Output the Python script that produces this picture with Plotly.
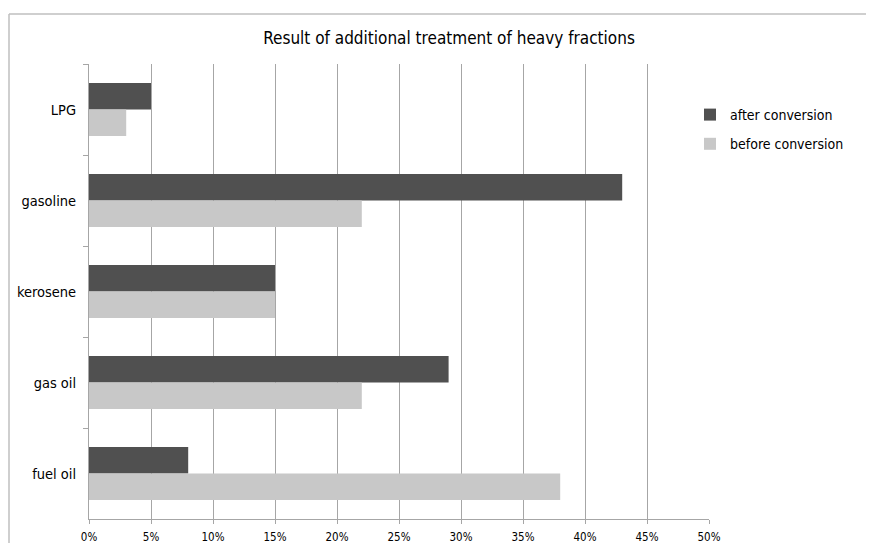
import plotly.graph_objects as go

categories = ["LPG", "gasoline", "kerosene", "gas oil", "fuel oil"]
after_conversion = [5, 43, 15, 29, 8]
before_conversion = [3, 22, 15, 22, 38]
x_ticks = [0, 5, 10, 15, 20, 25, 30, 35, 40, 45, 50]
x_tick_labels = [f"{t}%" for t in x_ticks]

FONT = "DejaVu Sans Condensed, Open Sans, sans-serif"

fig = go.Figure()
fig.add_trace(go.Bar(
    y=categories, x=after_conversion, orientation="h",
    name="after conversion", legendgroup="a",
    marker=dict(color="#505050", line=dict(width=0)),
))
fig.add_trace(go.Bar(
    y=categories, x=before_conversion, orientation="h",
    name="before conversion", legendgroup="b",
    marker=dict(color="#c8c8c8", line=dict(width=0)),
))

# page has an 8px body margin; work in figure coordinates
OFF = 8
W, H = 874 - OFF, 543 - OFF
L, T = 89 - OFF, 64 - OFF
R = W - (709 - OFF)
B = H - (519 - OFF)
pw = W - L - R
ph = H - T - B

def px_x(p):
    return (p - OFF - L) / pw

def px_y(p):
    return (H - B - (p - OFF)) / ph

fig.update_layout(
    width=W, height=H,
    margin=dict(l=L, r=R, t=T, b=B, autoexpand=False),
    paper_bgcolor="white", plot_bgcolor="white",
    barmode="group", bargap=0.42, bargroupgap=0,
    font=dict(family=FONT, size=12, color="#000000"),
    title=dict(text="Result of additional treatment of heavy fractions",
               x=(449 - OFF) / W, xref="container", xanchor="center",
               y=1 - (38 - OFF) / H, yanchor="middle",
               font=dict(family=FONT, size=17, color="#000000")),
    xaxis=dict(range=[0, 50], tickvals=x_ticks, ticktext=x_tick_labels,
               showgrid=True, gridcolor="#a6a6a6", gridwidth=1,
               zeroline=False, showline=True, linecolor="#a6a6a6",
               ticks="outside", ticklen=4, tickcolor="#a6a6a6",
               ticklabelstandoff=3, automargin=False,
               tickfont=dict(family=FONT, size=11.5), fixedrange=True),
    yaxis=dict(categoryorder="array", categoryarray=categories,
               autorange="reversed", showgrid=False, zeroline=False,
               showline=True, linecolor="#a6a6a6",
               ticks="outside", ticklen=5, tickcolor="#a6a6a6",
               tickson="boundaries", ticklabelstandoff=9, automargin=False,
               tickfont=dict(family=FONT, size=14.5)),
    legend=dict(x=px_x(690), y=px_y(99), xanchor="left", yanchor="top",
                traceorder="grouped", tracegroupgap=8,
                font=dict(family=FONT, size=14),
                itemwidth=30, bgcolor="rgba(0,0,0,0)"),
    showlegend=True,
    shapes=[
        dict(type="line", xref="paper", yref="paper",
             x0=px_x(9), x1=px_x(890), y0=px_y(14), y1=px_y(14),
             line=dict(color="#bfbfbf", width=1.5)),
        dict(type="line", xref="paper", yref="paper",
             x0=px_x(9), x1=px_x(9), y0=px_y(14), y1=px_y(560),
             line=dict(color="#bfbfbf", width=1.5)),
    ],
)

fig.write_html("out.html")
